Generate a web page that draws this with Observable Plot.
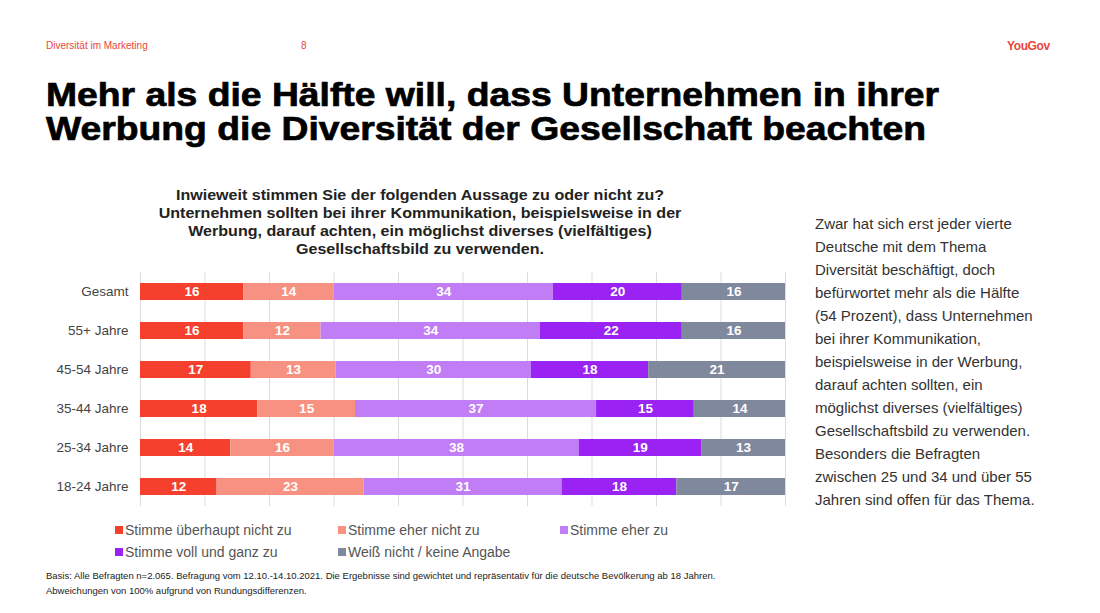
<!DOCTYPE html>
<html><head><meta charset="utf-8">
<script src="https://cdn.jsdelivr.net/npm/d3@7"></script>
<script src="https://cdn.jsdelivr.net/npm/@observablehq/plot@0.6"></script>
<style>
body{margin:0;width:1100px;height:613px;background:#fff;font-family:"Liberation Sans",Arial,sans-serif;position:relative;overflow:hidden}
.abs{position:absolute;white-space:nowrap}
#title{left:46px;top:78px;font-size:33px;font-weight:bold;line-height:34px;color:#000;transform:scaleX(1.13);transform-origin:left top;-webkit-text-stroke:0.7px #000}
#question{left:120px;width:600px;top:186px;text-align:center;font-size:15px;font-weight:bold;line-height:18px;color:#222;white-space:normal;transform:scaleX(1.07);transform-origin:300px 0}
#side{left:815px;top:212px;font-size:15px;line-height:23px;color:#333}
#legend{left:115px;top:522px;font-size:14px;color:#555}
.li{position:absolute;white-space:nowrap}
.sw{display:inline-block;width:8px;height:8px;margin-right:2px;vertical-align:1px}
#foot{left:46px;top:568px;font-size:9.5px;line-height:15px;color:#222}
#chart{position:absolute;left:0;top:262px}
</style></head><body>
<div class="abs" style="left:46px;top:40px;font-size:10px;color:#e8473c">Diversität im Marketing</div>
<div class="abs" style="left:301px;top:40px;font-size:10px;color:#e8473c">8</div>
<div class="abs" style="left:1007px;top:39px;font-size:12px;font-weight:bold;color:#e8473c;letter-spacing:-0.4px">YouGov</div>
<div class="abs" id="title">Mehr als die Hälfte will, dass Unternehmen in ihrer<br>Werbung die Diversität der Gesellschaft beachten</div>
<div class="abs" id="question">Inwieweit stimmen Sie der folgenden Aussage zu oder nicht zu?<br>Unternehmen sollten bei ihrer Kommunikation, beispielsweise in der<br>Werbung, darauf achten, ein möglichst diverses (vielfältiges)<br>Gesellschaftsbild zu verwenden.</div>
<div class="abs" id="side">Zwar hat sich erst jeder vierte<br>Deutsche mit dem Thema<br>Diversität beschäftigt, doch<br>befürwortet mehr als die Hälfte<br>(54 Prozent), dass Unternehmen<br>bei ihrer Kommunikation,<br>beispielsweise in der Werbung,<br>darauf achten sollten, ein<br>möglichst diverses (vielfältiges)<br>Gesellschaftsbild zu verwenden.<br>Besonders die Befragten<br>zwischen 25 und 34 und über 55<br>Jahren sind offen für das Thema.</div>
<div id="chart"></div>
<div class="abs" id="legend"></div>
<div class="abs" id="foot">Basis: Alle Befragten n=2.065. Befragung vom 12.10.-14.10.2021. Die Ergebnisse sind gewichtet und repräsentativ für die deutsche Bevölkerung ab 18 Jahren.<br>Abweichungen von 100% aufgrund von Rundungsdifferenzen.</div>
<script>
const groups = ["Gesamt","55+ Jahre","45-54 Jahre","35-44 Jahre","25-34 Jahre","18-24 Jahre"];
const series = ["Stimme überhaupt nicht zu","Stimme eher nicht zu","Stimme eher zu","Stimme voll und ganz zu","Weiß nicht / keine Angabe"];
const colors = ["#f4402c","#f79282","#c17df5","#9a23f3","#7f889c"];
const ueberhauptNicht = [16,16,17,18,14,12];
const eherNicht = [14,12,13,15,16,23];
const eherZu = [34,34,30,37,38,31];
const vollUndGanz = [20,22,18,15,19,18];
const weissNicht = [16,16,21,14,13,17];
const gridTicks = [0,0.1,0.2,0.3,0.4,0.5,0.6,0.7,0.8,0.9,1];

const cols = [ueberhauptNicht, eherNicht, eherZu, vollUndGanz, weissNicht];
const data = [];
groups.forEach((g,i)=>series.forEach((s,j)=>data.push({group:g, series:s, value:cols[j][i]})));

const plot = Plot.plot({
  width: 800, height: 250,
  marginLeft: 140, marginRight: 15, marginTop: 10, marginBottom: 6,
  x: {domain:[0,1], axis:null},
  y: {domain: groups, paddingInner: 0.56, paddingOuter: 0.28, label:null},
  color: {domain: series, range: colors},
  style: {fontFamily: '"Liberation Sans", Arial, sans-serif'},
  marks: [
    Plot.ruleX(gridTicks, {stroke:"#dcdcdc", strokeWidth:1}),
    Plot.barX(data, Plot.stackX({x:"value", y:"group", fill:"series", order: series, offset:"normalize"})),
    Plot.text(data, Plot.stackX({x:"value", y:"group", z:"series", order: series, offset:"normalize", text:"value", fill:"white", fontWeight:"bold", fontSize:13.5})),
    Plot.axisY({tickSize:0, tickPadding:12, fontSize:13.5, color:"#444", label:null})
  ]
});
document.getElementById("chart").appendChild(plot);

const legendPos = [[0,0],[223,0],[445,0],[0,22],[223,22]];
const leg = document.getElementById("legend");
series.forEach((s,i)=>{
  const d = document.createElement("div");
  d.className="li";
  d.style.left = legendPos[i][0]+"px"; d.style.top = legendPos[i][1]+"px";
  d.innerHTML = `<span class="sw" style="background:${colors[i]}"></span>${s}`;
  leg.appendChild(d);
});
</script>
</body></html>
